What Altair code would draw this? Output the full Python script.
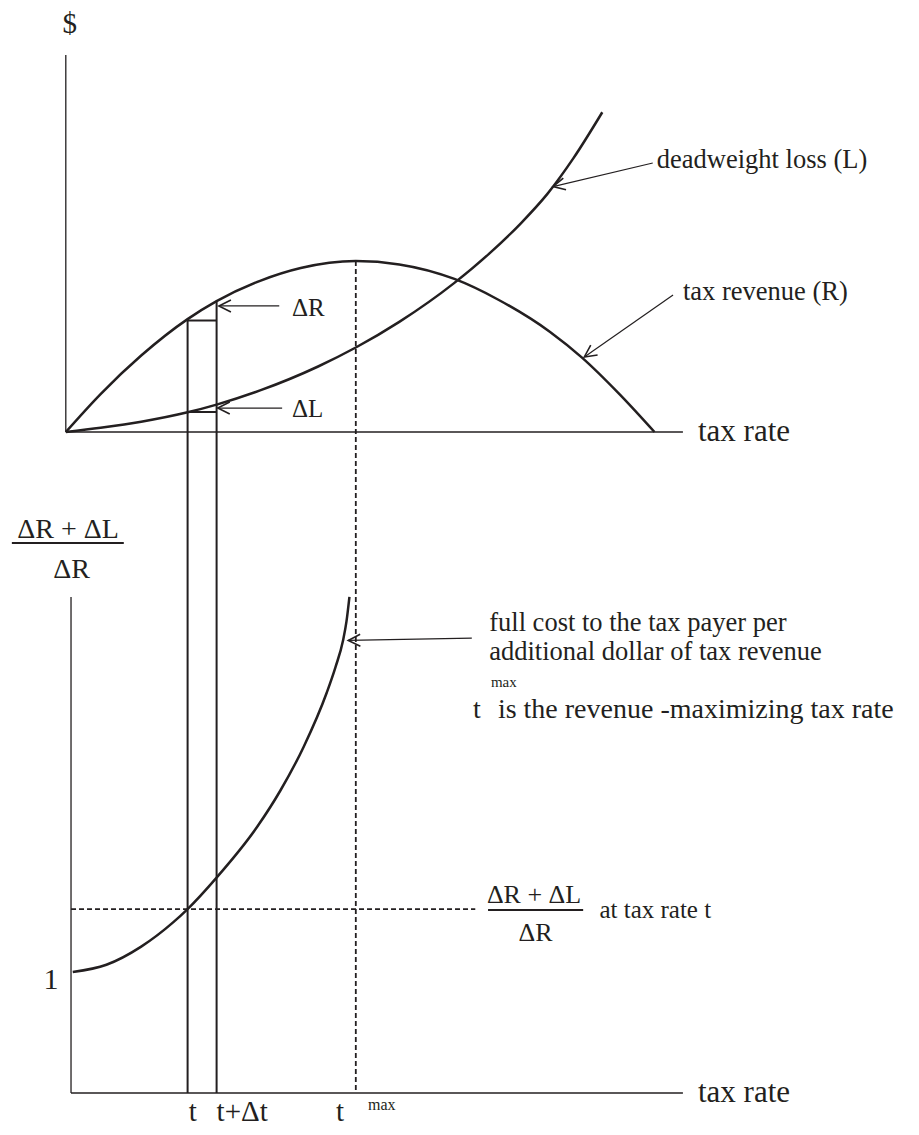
import math
import altair as alt
import pandas as pd

INK = "#231f20"
FONT = "Liberation Serif"

# ---------------- values ----------------
# upper panel: x = tax rate, y = dollars
rev_rate = [0, 6, 13, 21, 26, 33.5, 40.5, 50, 57.5, 67, 74.5, 83.5, 89, 95.5, 101.5]
rev_dollars = [0, 22.2, 44.7, 66, 76.5, 88.4, 95.9, 100, 98, 89.5, 77.5, 58.5, 43.5, 22, 0]
loss_rate = [0, 6, 13, 21, 26, 33.5, 43.5, 50, 57.5, 67, 73, 78.5, 83, 87.5, 92.5]
loss_dollars = [0, 2.5, 6, 11.5, 16, 24.3, 38.3, 49.4, 64.4, 87.2, 104.3, 122.2, 139.1, 160, 187]
# lower panel: x = tax rate, y = (ΔR + ΔL) / ΔR
cost_rate = [1.2, 7, 13, 18.5, 21, 26, 33, 37, 41, 45, 46.5, 47.8, 48.4, 48.9]
cost_ratio = [1.0, 1.06, 1.21, 1.41, 1.52, 1.78, 2.2, 2.5, 2.86, 3.31, 3.52, 3.74, 3.9, 4.1]

T_RATE, T_DT_RATE, T_MAX_RATE = 21, 26, 50
R_AT_T, R_AT_T_DT, R_MAX = 66, 76.5, 100
L_AT_T = 11.7
RATIO_AT_T = 1.52
TOP_AXIS_TOP = 220.5        # dollars
AXIS_END = 106.4            # tax rate where both horizontal axes end
BOT_AXIS_X, BOT_AXIS_TOP = 0.9, 4.1
DASH_END = 70.6

# ---------------- layout (scale placement on the page) ----------------
W, H, M = 903, 1119, 8
PX0, PXK = 65.8, 5.8        # page x of tax rate 0, px per unit
TOP0, TOPK = 432, 1.71      # page y of $0, px per dollar
BOT0, BOTK = 1093, 121      # page y of ratio baseline, px per ratio unit
x_dom = [(M - PX0) / PXK, (M + W - PX0) / PXK]
top_dom = [(TOP0 - (M + H)) / TOPK, (TOP0 - M) / TOPK]
bot_dom = [(BOT0 - (M + H)) / BOTK, (BOT0 - M) / BOTK]
LOWER_BASE_IN_DOLLARS = (TOP0 - BOT0) / TOPK


def px(t):
    return PX0 + PXK * t


def py_top(v):
    return TOP0 - TOPK * v


def py_bot(v):
    return BOT0 - BOTK * v


xs = alt.Scale(domain=x_dom, nice=False, zero=False)
ts = alt.Scale(domain=top_dom, nice=False, zero=False)
bs = alt.Scale(domain=bot_dom, nice=False, zero=False)


def enc_xy(ysc, x="x", y="y"):
    return dict(x=alt.X(f"{x}:Q", scale=xs, axis=None),
                y=alt.Y(f"{y}:Q", scale=ysc, axis=None))


def segments(rows, ysc, dash=None):
    df = pd.DataFrame(rows, columns=["x", "y", "x2", "y2", "w"])
    kw = dict(color=INK)
    if dash:
        kw["strokeDash"] = dash
    return alt.Chart(df).mark_rule(**kw).encode(
        **enc_xy(ysc), x2="x2:Q", y2="y2:Q",
        strokeWidth=alt.StrokeWidth("w:Q", scale=None))


def curve(rate, val, ysc, w=2.5):
    df = pd.DataFrame({"x": rate, "y": val, "o": range(len(rate))})
    return alt.Chart(df).mark_line(color=INK, strokeWidth=w, interpolate="monotone").encode(
        **enc_xy(ysc), order="o:Q")


def heads(rows, ysc, pyf):
    recs = []
    for (tx, ty, hx, hy) in rows:
        dx = px(hx) - px(tx)
        dy = pyf(hy) - pyf(ty)
        ang = (math.degrees(math.atan2(dy, dx)) - 180) % 360
        recs.append({"x": hx, "y": hy, "a": ang})
    return alt.Chart(pd.DataFrame(recs)).mark_point(
        shape="M2,-1L0,0L2,1", filled=False, size=144, strokeWidth=1.6, color=INK, opacity=1
    ).encode(**enc_xy(ysc), angle=alt.Angle("a:Q", scale=None))


def labels(rows, ysc, align, baseline="middle"):
    df = pd.DataFrame(rows, columns=["x", "y", "text", "size"])
    return alt.Chart(df).mark_text(align=align, baseline=baseline, font=FONT, color=INK).encode(
        **enc_xy(ysc), text="text:N", size=alt.Size("size:Q", scale=None))


# ---------------- upper panel ----------------
top_arrows = [
    (101.2, 157.3, 84.0, 143.5),
    (104.7, 80.1, 89.4, 43.9),
    (36.8, 73.7, 26.4, 73.7),
    (37.3, 14.0, 26.2, 14.0),
]
top_layers = [
    segments([
        (0, 0, 0, TOP_AXIS_TOP, 1.3),
        (0, 0, AXIS_END, 0, 1.3),
        (T_RATE, R_AT_T, T_RATE, LOWER_BASE_IN_DOLLARS, 2),
        (T_DT_RATE, R_AT_T_DT, T_DT_RATE, LOWER_BASE_IN_DOLLARS, 2),
        (T_RATE, R_AT_T - 0.8, T_DT_RATE, R_AT_T - 0.8, 2),
        (T_RATE, L_AT_T, T_DT_RATE, L_AT_T, 2),
    ] + [(a, b, c, d, 1.2) for (a, b, c, d) in top_arrows], ts),
    segments([(T_MAX_RATE, R_MAX, T_MAX_RATE, LOWER_BASE_IN_DOLLARS, 1.8)], ts, dash=[5, 3]),
    curve(rev_rate, rev_dollars, ts),
    curve(loss_rate, loss_dollars, ts),
    heads(top_arrows, ts, py_top),
    labels([
        (0.7, 238.6, "$", 29),
    ], ts, "center"),
    labels([
        (101.9, 159.1, "deadweight loss (L)", 26.5),
        (106.4, 81.9, "tax revenue (R)", 26.5),
        (39, 72.5, "ΔR", 25),
        (39, 13.5, "ΔL", 25),
        (109, 0, "tax rate", 31),
    ], ts, "left"),
]

# ---------------- lower panel ----------------
bot_arrows = [(70.0, 3.76, 48.7, 3.74)]
bot_layers = [
    segments([
        (BOT_AXIS_X, 0, BOT_AXIS_X, BOT_AXIS_TOP, 1.3),
        (BOT_AXIS_X, 0, AXIS_END, 0, 1.3),
        (-9.3, 4.545, 10.0, 4.545, 2),
        (72.8, 1.512, 89.2, 1.512, 2),
    ] + [(a, b, c, d, 1.2) for (a, b, c, d) in bot_arrows], bs),
    segments([(BOT_AXIS_X, RATIO_AT_T, DASH_END, RATIO_AT_T, 1.8)], bs, dash=[5, 3]),
    curve(cost_rate, cost_ratio, bs),
    heads(bot_arrows, bs, py_bot),
    labels([
        (0.4, 4.65, "ΔR + ΔL", 28),
        (1.0, 4.32, "ΔR", 28),
        (-2.55, 0.934, "1", 30),
        (81.0, 1.322, "ΔR", 26),
    ], bs, "center"),
    labels([
        (21.9, -0.231, "t", 29),
        (47.3, -0.231, "t", 29),
    ], bs, "center", "alphabetic"),
    labels([
        (26, -0.231, "t+Δt", 29),
    ], bs, "left", "alphabetic"),
    labels([
        (73, 3.884, "full cost to the tax payer per", 26.5),
        (73, 3.645, "additional dollar of tax revenue", 26.5),
        (70.2, 3.165, "t", 28),
        (73.3, 3.397, "max", 15),
        (74.5, 3.165, "is the revenue -maximizing tax rate", 28),
        (72.6, 1.636, "ΔR + ΔL", 26),
        (92.0, 1.512, "at tax rate t", 25),
        (52.1, -0.1, "max", 16),
        (109, 0, "tax rate", 31),
    ], bs, "left"),
]

chart = alt.layer(alt.layer(*top_layers), alt.layer(*bot_layers)).resolve_scale(
    y="independent"
).properties(
    width=W, height=H, padding=0, autosize="none"
).configure_view(stroke=None)

chart.save("out.html", embed_options={"renderer": "svg", "actions": False})
